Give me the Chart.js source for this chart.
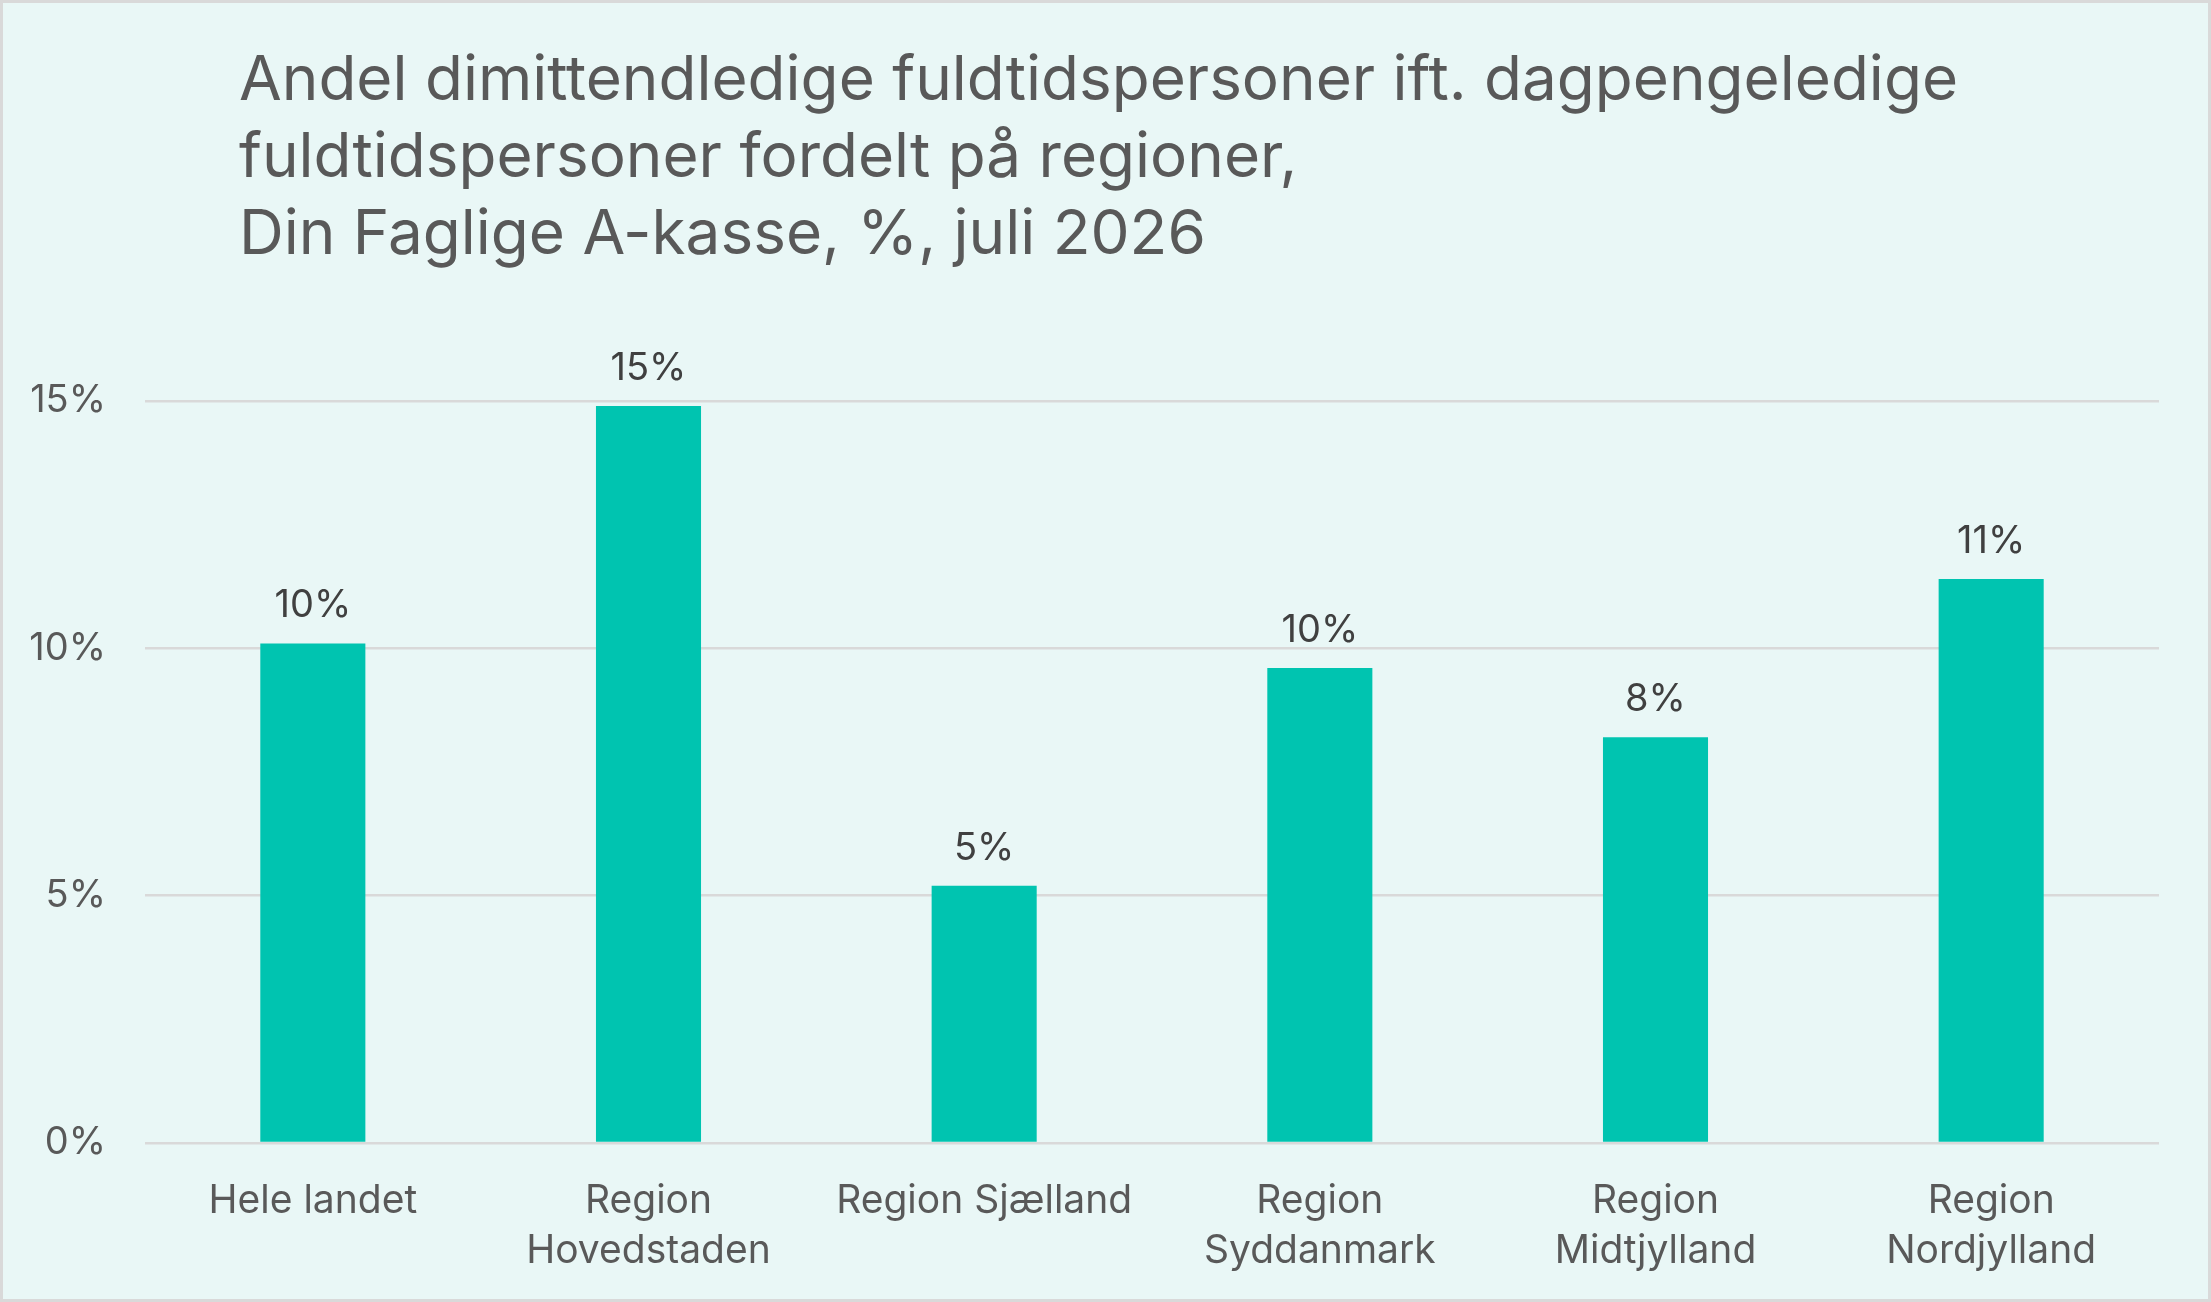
<!DOCTYPE html>
<html>
<head>
<meta charset="utf-8">
<script src="https://cdn.jsdelivr.net/npm/chart.js@4/dist/chart.umd.min.js"></script>
<style>
  html, body { margin: 0; padding: 0; background: #d9d9d9; }
  #frame {
    position: relative;
    box-sizing: border-box;
    width: 2211px; height: 1302px;
    border: 3px solid #d9d9d9;
    background: #e9f7f6;
  }
  #title {
    position: absolute;
    left: 236px; top: 36px;
    font-family: Inter, "Noto Sans", sans-serif;
    font-size: 62px; line-height: 77px;
    color: #595959;
    white-space: nowrap;
  }
  #wrap { position: absolute; left: 0; top: 0; width: 2205px; height: 1296px; }
</style>
</head>
<body>
<div id="frame">
  <div id="title">Andel dimittendledige fuldtidspersoner ift. dagpengeledige<br>fuldtidspersoner fordelt på regioner,<br>Din Faglige A-kasse, %, juli 2026</div>
  <div id="wrap"><canvas id="c"></canvas></div>
</div>
<script>
const categories = [
  "Hele landet",
  ["Region", "Hovedstaden"],
  "Region Sjælland",
  ["Region", "Syddanmark"],
  ["Region", "Midtjylland"],
  ["Region", "Nordjylland"]
];
const values = [10.1, 14.9, 5.2, 9.6, 8.2, 11.4];
const yTicks = [0, 5, 10, 15];

const FONT = 'Inter, "Noto Sans", sans-serif';

const valueLabels = {
  id: 'valueLabels',
  afterDatasetsDraw(chart) {
    const ctx = chart.ctx;
    const meta = chart.getDatasetMeta(0);
    ctx.save();
    ctx.font = '38px ' + FONT;
    ctx.fillStyle = '#404040';
    ctx.textAlign = 'center';
    ctx.textBaseline = 'alphabetic';
    meta.data.forEach((bar, i) => {
      ctx.fillText(Math.round(values[i]) + '%', bar.x, bar.y - 26);
    });
    ctx.restore();
  }
};

new Chart(document.getElementById('c'), {
  type: 'bar',
  data: {
    labels: categories,
    datasets: [{
      data: values,
      backgroundColor: '#00c4b0',
      borderWidth: 0,
      barPercentage: 0.313,
      categoryPercentage: 1
    }]
  },
  options: {
    responsive: true,
    maintainAspectRatio: false,
    animation: false,
    devicePixelRatio: 1,
    layout: { padding: { top: 398, right: 49, bottom: 0, left: 0 } },
    plugins: {
      legend: { display: false },
      tooltip: { enabled: false }
    },
    scales: {
      y: {
        min: 0, max: 15,
        afterFit(scale) { scale.width = 142; },
        afterBuildTicks(scale) { scale.ticks = yTicks.map(v => ({ value: v })); },
        ticks: {
          padding: 39,
          color: '#595959',
          font: { family: FONT, size: 38 },
          callback: v => v + '%'
        },
        grid: { color: '#d9d9d9', lineWidth: 2.5, drawTicks: false },
        border: { display: false }
      },
      x: {
        afterFit(scale) { scale.height = 156; },
        ticks: {
          padding: 34,
          color: '#595959',
          maxRotation: 0,
          autoSkip: false,
          font: { family: FONT, size: 39, lineHeight: 1.27 }
        },
        grid: { display: false, drawTicks: false },
        border: { display: false }
      }
    }
  },
  plugins: [valueLabels]
});
</script>
</body>
</html>
